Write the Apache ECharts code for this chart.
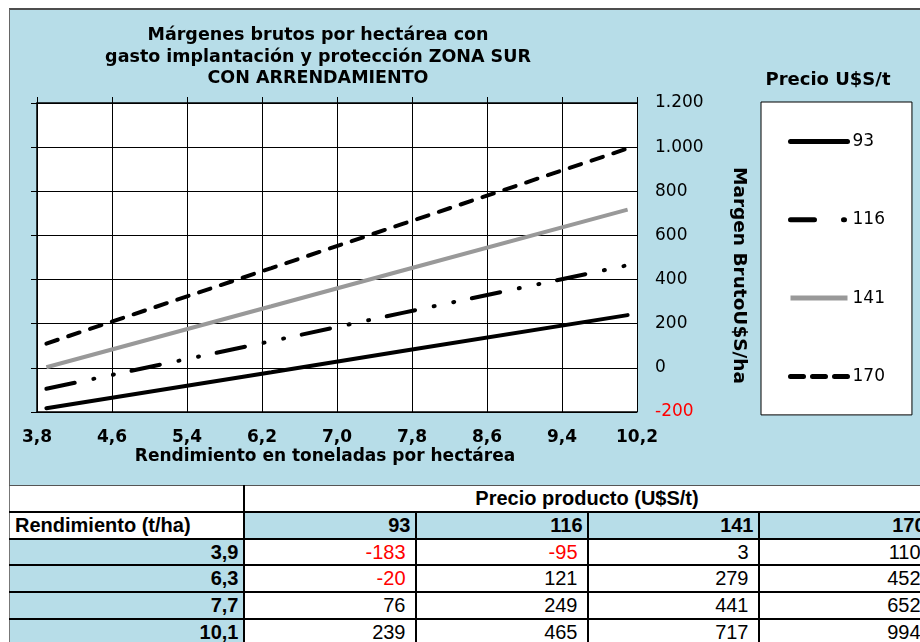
<!DOCTYPE html>
<html><head><meta charset="utf-8">
<script src="https://cdn.jsdelivr.net/npm/echarts@6/dist/echarts.min.js"></script>
<style>
html,body{margin:0;padding:0;background:#fff;width:920px;height:642px;overflow:hidden;position:relative;}
#bg{position:absolute;left:9px;top:8px;width:930px;height:475px;background:#b7dde8;border-top:2px solid #4d4d4d;border-left:1px solid #666;border-bottom:1px solid #333;}
#chart{position:absolute;left:0;top:0;width:920px;height:485px;}
#tbl{position:absolute;left:9px;top:485px;width:921px;border-collapse:collapse;table-layout:fixed;font-family:'Liberation Sans',Arial,sans-serif;font-size:20px;color:#000;}
#tbl td{border:2px solid #000;padding:0;height:24.75px;line-height:24.75px;white-space:nowrap;overflow:hidden;}
#tbl td.blue{background:#b7dde8;}
#tbl td.white{background:#fff;}
#tbl td.b{font-weight:bold;}
#tbl td.hdr{text-align:right;padding-right:4px;}
#tbl td.val{text-align:right;padding-right:9px;}
#tbl td.neg{color:#ff0000;}
</style></head>
<body>
<div id="bg"></div>
<div id="chart"></div>
<table id="tbl"></table>
<script>
// ---- data ----
const rendimientos = [3.9, 6.3, 7.7, 10.1];
const precios = ['93', '116', '141', '170'];
const margen93 = [-183, -20, 76, 239];
const margen116 = [-95, 121, 249, 465];
const margen141 = [3, 279, 441, 717];
const margen170 = [110, 452, 652, 994];
const tableTitle = 'Precio producto (U$S/t)';
const rowHeader = 'Rendimiento (t/ha)';

const allSeries = [margen93, margen116, margen141, margen170];
const fmtComma = v => v.toFixed(1).replace('.', ',');
const fmtThousands = v => {
  const s = String(Math.abs(v)).replace(/\B(?=(\d{3})+(?!\d))/g, '.');
  return (v < 0 ? '-' : '') + s;
};

const styles = [
  {color: '#000', width: 4, type: 'solid', cap: 'round', legendType: 'solid'},
  {color: '#000', width: 4, type: [29, 19, 1, 19, 1, 18], cap: 'round', legendType: [24, 29, 1, 60]},
  {color: '#999999', width: 4, type: 'solid', cap: 'butt', legendType: 'solid'},
  {color: '#000', width: 4, type: [12, 11], cap: 'round', legendType: [13, 9]}
];

const chart = echarts.init(document.getElementById('chart'), null, {renderer: 'canvas'});
const font = 'DejaVu Sans';
chart.setOption({
  animation: false,
  textStyle: {fontFamily: font},
  title: [
    {text: 'Márgenes brutos por hectárea con\ngasto implantación y protección ZONA SUR\nCON ARRENDAMIENTO',
     left: 318, top: 25, padding: 0, textAlign: 'center',
     textStyle: {fontFamily: font, fontSize: 17.5, fontWeight: 'bold', lineHeight: 21.5, color: '#000'}},
    {text: 'Precio U$S/t', left: 828, top: 70, padding: 0, textAlign: 'center',
     textStyle: {fontFamily: font, fontSize: 18, fontWeight: 'bold', lineHeight: 20, color: '#000'}}
  ],
  grid: {left: 37, right: 283, top: 103, bottom: 73, show: true, backgroundColor: '#fff', borderWidth: 0, containLabel: false},
  legend: {
    orient: 'vertical', left: 761, top: 102,
    padding: [31, 27, 30, 27],
    backgroundColor: '#fff', borderColor: '#000', borderWidth: 1,
    itemWidth: 57, itemHeight: 14, itemGap: 61.3,
    itemStyle: {opacity: 0, borderWidth: 0},
    lineStyle: {width: 5, cap: 'round'},
    textStyle: {fontFamily: font, fontSize: 17, color: '#000', lineHeight: 14},
    data: precios.map((p, i) => ({name: p, lineStyle: {type: styles[i].legendType, width: 5, cap: styles[i].cap}}))
  },
  xAxis: [
    {type: 'value', position: 'bottom', min: 3.8, max: 10.2, interval: 0.8,
     axisLine: {show: true, onZero: false, lineStyle: {color: '#000', width: 1.5}},
     axisTick: {show: false},
     splitLine: {show: true, lineStyle: {color: '#000', width: 1}},
     axisLabel: {formatter: fmtComma, fontFamily: font, fontSize: 17, fontWeight: 'bold', color: '#000', margin: 17},
     name: 'Rendimiento en toneladas por hectárea', nameLocation: 'middle', nameGap: 36, nameMoveOverlap: false,
     nameTextStyle: {fontFamily: font, fontSize: 17, fontWeight: 'bold', color: '#000', padding: [0, 24, 0, 0]}},
    {type: 'value', position: 'top', min: 3.8, max: 10.2, interval: 0.8,
     axisLine: {show: true, onZero: false, lineStyle: {color: '#000', width: 1.5}},
     axisTick: {show: true, inside: false, length: 6, lineStyle: {color: '#000', width: 1}},
     splitLine: {show: false}, axisLabel: {show: false}}
  ],
  yAxis: [
    {type: 'value', position: 'left', min: -200, max: 1200, interval: 200,
     axisLine: {show: true, onZero: false, lineStyle: {color: '#000', width: 1.5}},
     axisTick: {show: true, inside: false, length: 6, lineStyle: {color: '#000', width: 1}},
     splitLine: {show: true, lineStyle: {color: '#000', width: 1}},
     axisLabel: {show: false}},
    {type: 'value', position: 'right', min: -200, max: 1200, interval: 200,
     axisLine: {show: false}, axisTick: {show: false}, splitLine: {show: false},
     axisLabel: {formatter: fmtThousands, fontFamily: font, fontSize: 17, margin: 18, padding: [5, 0, 0, 0],
       color: (v) => (Number(v) < 0 ? '#ff0000' : '#000')},
     name: 'Margen BrutoU$S/ha', nameLocation: 'middle', nameGap: 92, nameRotate: -90, nameMoveOverlap: false,
     nameTextStyle: {fontFamily: font, fontSize: 18.5, fontWeight: 'bold', color: '#000', padding: [0, 0, 0, 36]}}
  ],
  series: allSeries.map((vals, i) => ({
    name: precios[i], type: 'line', xAxisIndex: 0, yAxisIndex: 0,
    symbol: 'none', showSymbol: false, silent: true,
    itemStyle: {color: styles[i].color},
    lineStyle: {color: styles[i].color, width: styles[i].width, type: styles[i].type, cap: styles[i].cap},
    data: rendimientos.map((r, j) => [r, vals[j]])
  }))
});

// ---- table ----
const tbl = document.getElementById('tbl');
const colW = [234, 172, 172, 171, 172];
let html = '<colgroup>' + colW.map(w => `<col style="width:${w}px">`).join('') + '</colgroup>';
html += `<tr><td class="white" style="border-top:1px solid #555;border-left:1px solid #777"></td>` +
        `<td class="white b" colspan="4" style="text-align:center;border-top:1px solid #555">${tableTitle}</td></tr>`;
html += `<tr><td class="white b" style="padding-left:5px;border-left:1px solid #777">${rowHeader}</td>` +
        precios.map(p => `<td class="blue b hdr">${p}</td>`).join('') + '</tr>';
rendimientos.forEach((r, j) => {
  html += `<tr><td class="blue b hdr" style="border-left:1px solid #777">${fmtComma(r)}</td>` +
    allSeries.map(s => `<td class="white val${s[j] < 0 ? ' neg' : ''}">${s[j]}</td>`).join('') + '</tr>';
});
tbl.innerHTML = html;
</script>
</body></html>
